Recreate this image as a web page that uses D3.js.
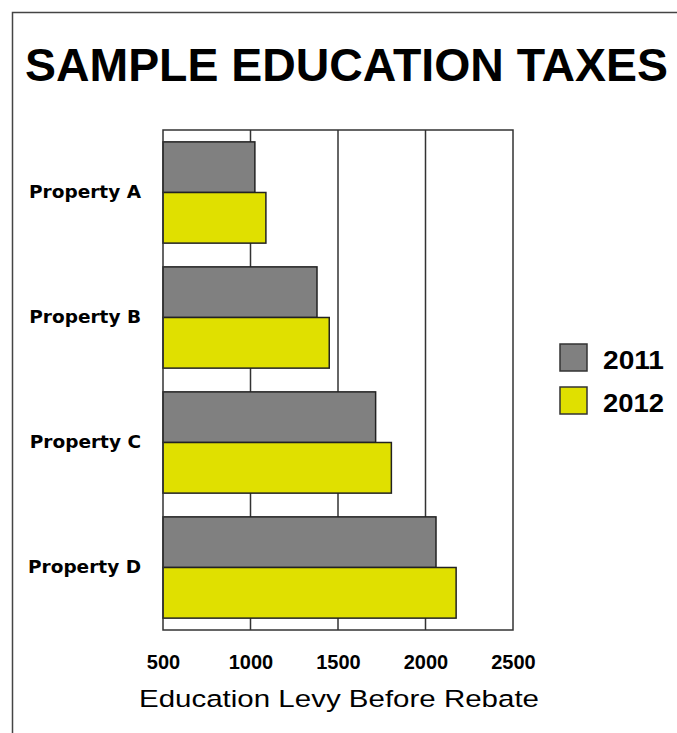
<!DOCTYPE html>
<html>
<head>
<meta charset="utf-8">
<script src="https://cdn.jsdelivr.net/npm/d3@7"></script>
<style>
  html, body { margin: 0; padding: 0; background: #fff; }
  svg { display: block; }
</style>
</head>
<body>
<svg id="chart" width="677" height="733"></svg>
<script>
const categories = ["Property A", "Property B", "Property C", "Property D"];
const seriesNames = ["2011", "2012"];
const values2011 = [1025, 1380, 1715, 2060];
const values2012 = [1088, 1450, 1805, 2175];
const xTicks = [500, 1000, 1500, 2000, 2500];
const gridTicks = [1000, 1500, 2000];
const colors = ["#808080", "#e0e000"];
const titleText = "SAMPLE EDUCATION TAXES";
const xTitleText = "Education Levy Before Rebate";

const rows = categories.map((c, i) => ({ cat: c, vals: [values2011[i], values2012[i]] }));

const svg = d3.select("#chart");

// outer frame (extends beyond the viewport on right/bottom)
svg.append("rect")
  .attr("x", 12.5).attr("y", 12.5).attr("width", 720).attr("height", 760)
  .attr("fill", "#fff").attr("stroke", "#444").attr("stroke-width", 1.5);

// title
svg.append("text")
  .attr("x", 346.5).attr("y", 81)
  .attr("text-anchor", "middle")
  .attr("font-family", "Liberation Sans, Arial, sans-serif")
  .attr("font-weight", "bold").attr("font-size", 46.5)
  .attr("textLength", 643).attr("lengthAdjust", "spacingAndGlyphs")
  .attr("fill", "#000")
  .text(titleText);

const plot = { left: 163, right: 513, top: 130, bottom: 630 };

const x = d3.scaleLinear().domain([500, 2500]).range([plot.left, plot.right]);
const y = d3.scaleBand().domain(categories).range([plot.top, plot.bottom])
  .paddingInner(0.19).paddingOuter(0.095);
const ySub = d3.scaleBand().domain(seriesNames).range([0, y.bandwidth()]);

// plot background
svg.append("rect")
  .attr("x", plot.left).attr("y", plot.top)
  .attr("width", plot.right - plot.left).attr("height", plot.bottom - plot.top)
  .attr("fill", "#fff");

// gridlines
svg.append("g").selectAll("line").data(gridTicks).join("line")
  .attr("x1", d => x(d)).attr("x2", d => x(d))
  .attr("y1", plot.top).attr("y2", plot.bottom)
  .attr("stroke", "#333").attr("stroke-width", 1.5);

// bars
const groups = svg.append("g").selectAll("g").data(rows).join("g")
  .attr("transform", d => `translate(0,${y(d.cat)})`);
groups.selectAll("rect").data(d => d.vals.map((v, i) => ({ v, s: seriesNames[i], i })))
  .join("rect")
  .attr("x", x(500))
  .attr("y", d => ySub(d.s))
  .attr("width", d => x(d.v) - x(500))
  .attr("height", ySub.bandwidth())
  .attr("fill", d => colors[d.i])
  .attr("stroke", "#222").attr("stroke-width", 1.5);

// plot frame
svg.append("rect")
  .attr("x", plot.left).attr("y", plot.top)
  .attr("width", plot.right - plot.left).attr("height", plot.bottom - plot.top)
  .attr("fill", "none").attr("stroke", "#333").attr("stroke-width", 1.5);

// x axis
const xAxis = svg.append("g")
  .attr("transform", `translate(0,${plot.bottom})`)
  .call(d3.axisBottom(x).tickValues(xTicks).tickSize(0).tickPadding(25).tickFormat(d3.format("d")));
xAxis.select(".domain").remove();
xAxis.selectAll("text")
  .attr("font-family", "Liberation Sans, Arial, sans-serif")
  .attr("font-weight", "bold").attr("font-size", 20).attr("fill", "#000");

// y axis
const yAxis = svg.append("g")
  .attr("transform", `translate(${plot.left},0)`)
  .call(d3.axisLeft(y).tickSize(0).tickPadding(22));
yAxis.select(".domain").remove();
yAxis.selectAll("text")
  .attr("font-family", "DejaVu Sans, Verdana, sans-serif")
  .attr("font-weight", "bold").attr("font-size", 18.5).attr("fill", "#000");

// x title
svg.append("text")
  .attr("x", 339).attr("y", 707)
  .attr("text-anchor", "middle")
  .attr("font-family", "Liberation Sans, Arial, sans-serif")
  .attr("font-size", 24.5)
  .attr("textLength", 400).attr("lengthAdjust", "spacingAndGlyphs")
  .attr("fill", "#000")
  .text(xTitleText);

// legend
const legend = svg.append("g").selectAll("g").data(seriesNames).join("g")
  .attr("transform", (d, i) => `translate(560,${344 + i * 43})`);
legend.append("rect")
  .attr("width", 27).attr("height", 27)
  .attr("fill", (d, i) => colors[i])
  .attr("stroke", "#333").attr("stroke-width", 1.5);
legend.append("text")
  .attr("x", 43).attr("y", 24.5)
  .attr("font-family", "Liberation Sans, Arial, sans-serif")
  .attr("font-weight", "bold").attr("font-size", 25)
  .attr("textLength", 61).attr("lengthAdjust", "spacingAndGlyphs")
  .attr("fill", "#000")
  .text(d => d);
</script>
</body>
</html>
